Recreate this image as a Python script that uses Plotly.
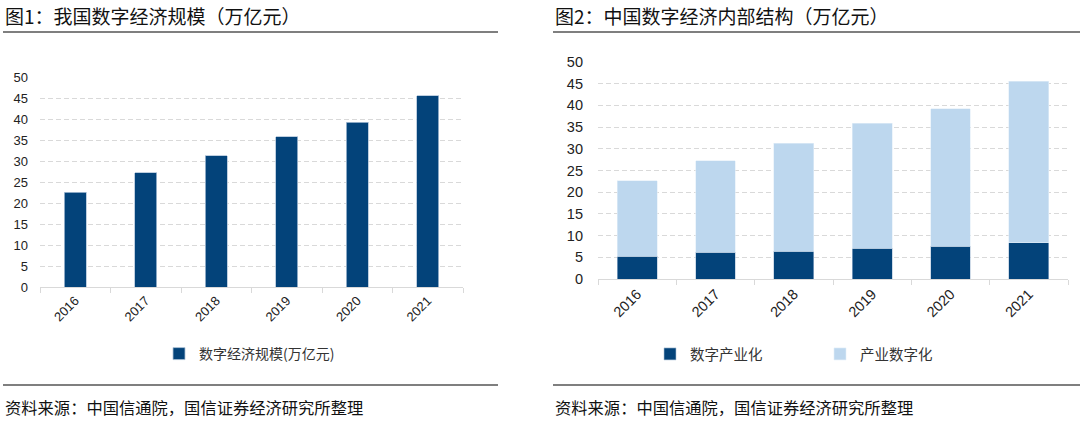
import plotly.graph_objects as go

# ---- data ----
years = ["2016", "2017", "2018", "2019", "2020", "2021"]
digital_economy = [22.6, 27.2, 31.3, 35.8, 39.2, 45.5]          # 数字经济规模(万亿元)
digital_industrialization = [5.2, 6.2, 6.4, 7.1, 7.5, 8.4]      # 数字产业化
industry_digitalization = [17.4, 21.0, 24.9, 28.8, 31.7, 37.2]  # 产业数字化
y_ticks = [0, 5, 10, 15, 20, 25, 30, 35, 40, 45, 50]

title_left = "图1：我国数字经济规模（万亿元）"
title_right = "图2：中国数字经济内部结构（万亿元）"
source_text = "资料来源：中国信通院，国信证券经济研究所整理"

W, H = 1080, 426
NAVY = "#03437A"
LIGHT = "#BDD7EE"
GRID = "#D9D9D9"
CJK = "Noto Sans CJK SC"
LAT = "Liberation Sans, Arial"


def px(x):
    return x / W


def py(y):
    return (H - y) / H


fig = go.Figure()

fig.add_trace(go.Bar(
    x=years, y=digital_economy, name="数字经济规模(万亿元)",
    marker=dict(color=NAVY, line=dict(color="#AFC3D8", width=0.8)),
    width=0.31, xaxis="x", yaxis="y", legend="legend",
))
fig.add_trace(go.Bar(
    x=years, y=digital_industrialization, name="数字产业化",
    marker=dict(color=NAVY, line=dict(color="#AFC3D8", width=0.6)),
    width=0.51, xaxis="x2", yaxis="y2", legend="legend2",
))
fig.add_trace(go.Bar(
    x=years, y=industry_digitalization, name="产业数字化",
    marker=dict(color=LIGHT, line=dict(color="#E3EEF8", width=0.6)),
    width=0.51, xaxis="x2", yaxis="y2", legend="legend2",
))

xcommon = dict(
    type="category", showgrid=False, showline=True, linecolor=GRID, linewidth=1,
    ticks="outside", tickson="boundaries", ticklen=5, tickcolor=GRID,
    tickangle=-45, zeroline=False, fixedrange=True, automargin=False,
)
ycommon = dict(
    range=[0, 50], tickvals=y_ticks, showgrid=True, gridcolor=GRID, griddash="5px,3px",
    gridwidth=1, zeroline=False, showline=False, ticks="", fixedrange=True, automargin=False,
)

fig.update_layout(
    template="none",
    width=W, height=H, autosize=False,
    margin=dict(l=0, r=0, t=0, b=0, pad=0),
    paper_bgcolor="white", plot_bgcolor="white",
    barmode="stack", showlegend=True,
    font=dict(family=LAT, color="#222222"),
    xaxis=dict(domain=[px(40), px(463)], anchor="y",
               tickfont=dict(family=LAT, size=13, color="#222222"), **xcommon),
    yaxis=dict(domain=[py(287), py(77)], anchor="x", ticklabelstandoff=11,
               tickfont=dict(family=LAT, size=13, color="#222222"), **ycommon),
    xaxis2=dict(domain=[px(598), px(1068)], anchor="y2",
                tickfont=dict(family=LAT, size=14.5, color="#222222"), **xcommon),
    yaxis2=dict(domain=[py(279), py(62)], anchor="x2", ticklabelstandoff=14,
                tickfont=dict(family=LAT, size=14.5, color="#222222"), **ycommon),
    legend=dict(orientation="h", x=px(159), xanchor="left", y=py(354), yanchor="middle",
                font=dict(family=CJK, size=14, color="#333333"), bgcolor="rgba(0,0,0,0)",
                traceorder="normal", itemclick=False, itemdoubleclick=False),
    legend2=dict(orientation="h", x=px(650), xanchor="left", y=py(354), yanchor="middle",
                 font=dict(family=CJK, size=14.5, color="#333333"), bgcolor="rgba(0,0,0,0)",
                 entrywidth=125, entrywidthmode="pixels", traceorder="normal",
                 itemclick=False, itemdoubleclick=False),
)

# titles and source notes
for x0, txt in [(3, title_left), (553, title_right)]:
    fig.add_annotation(text=txt, xref="paper", yref="paper", x=px(x0), y=py(16),
                       xanchor="left", yanchor="middle", showarrow=False,
                       font=dict(family=CJK, size=19, color="#111111"))
for x0 in [3, 553]:
    fig.add_annotation(text=source_text, xref="paper", yref="paper", x=px(x0), y=py(407),
                       xanchor="left", yanchor="middle", showarrow=False,
                       font=dict(family=CJK, size=16.3, color="#111111"))

# separator lines
for x0, x1 in [(3, 498), (553, 1080)]:
    for yy in [32, 385]:
        fig.add_shape(type="line", xref="paper", yref="paper",
                      x0=px(x0), x1=px(x1), y0=py(yy), y1=py(yy),
                      line=dict(color="#555555", width=1.5))

fig.write_html("out.html", config={"displayModeBar": False},
               post_script="document.body.style.margin='0';")
